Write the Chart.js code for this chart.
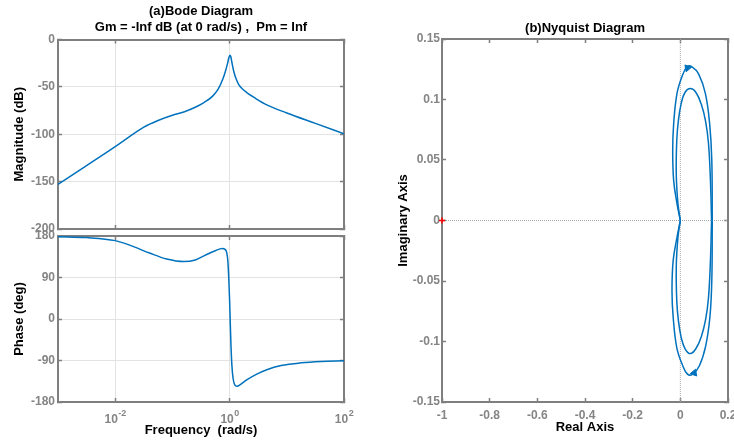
<!DOCTYPE html>
<html>
<head>
<meta charset="utf-8">
<script src="https://cdn.jsdelivr.net/npm/chart.js@4.4.1/dist/chart.umd.min.js"></script>
<style>
  html, body { margin: 0; padding: 0; background: #fff; }
  #fig { position: relative; width: 734px; height: 441px; }
  #fig canvas { position: absolute; left: 0; top: 0; }
</style>
</head>
<body>
<div id="fig">
  <canvas id="magChart" width="734" height="441"></canvas>
  <canvas id="phaseChart" width="734" height="441"></canvas>
  <canvas id="nyqChart" width="734" height="441"></canvas>
</div>
<script>
// Bode - Betrag (Frequenz in rad/s, Betrag in dB)
const magFreq = [0.001, 0.00316, 0.01, 0.0178, 0.0316, 0.0562, 0.1, 0.158, 0.251, 0.355, 0.501, 0.631,
                 0.759, 0.851, 0.923, 0.973, 1.012, 1.047, 1.096, 1.175, 1.288, 1.445, 1.66, 1.995,
                 2.818, 4.467, 10, 31.6, 100];
const magDb = [-153, -133, -113, -102.5, -92.5, -85.5, -80, -76.5, -71.5, -66.5, -60, -52.5,
               -42, -33, -25, -19, -16.5, -18, -24, -33, -41, -47.5, -52, -56,
               -62, -69, -77.5, -88.5, -99.5];

// Bode - Phase (deg)
const phaseFreq = [0.001, 0.00316, 0.01, 0.02, 0.0398, 0.0794, 0.158, 0.251, 0.398, 0.562, 0.741, 0.832,
                   0.891, 0.933, 0.966, 1.0, 1.028, 1.059, 1.096, 1.148, 1.23, 1.349, 1.585, 1.995,
                   2.818, 4.467, 7.943, 17.78, 39.81, 100];
const phaseDeg = [178.5, 176.5, 170, 158, 143, 130, 124.5, 128, 140, 148, 153, 151,
                  144, 125, 90, 40, -10, -60, -100, -128, -143, -146, -141, -132,
                  -121, -110, -101, -95, -92, -90.5];

// Achsenbeschriftungen Bode
const freqTicks = [0.01, 1, 100];
const freqTickExp = ['-2', '0', '2'];
const magTicks = [0, -50, -100, -150, -200];
const magTickLabels = ['0', '-50', '-100', '-150', '-200'];
const phaseTicks = [180, 90, 0, -90, -180];
const phaseTickLabels = ['180', '90', '0', '-90', '-180'];

// Nyquist - Schleifen (Realteil / Imaginaerteil)
const outerTopRe = [0, -0.014, -0.028, -0.032, -0.028, -0.014, 0.007, 0.028, 0.049, 0.077, 0.105, 0.123, 0.132, 0.134];
const outerTopIm = [0, 0.014, 0.033, 0.058, 0.080, 0.105, 0.119, 0.127, 0.127, 0.121, 0.105, 0.080, 0.050, 0];
const innerTopRe = [0, -0.01, -0.017, -0.015, -0.008, 0.004, 0.02, 0.042, 0.065, 0.088, 0.106, 0.118, 0.126, 0.131];
const innerTopIm = [0, 0.014, 0.038, 0.066, 0.083, 0.097, 0.106, 0.109, 0.106, 0.096, 0.082, 0.064, 0.035, 0];
const innerBotRe = [0, -0.01, -0.017, -0.015, -0.008, 0.004, 0.02, 0.042, 0.065, 0.088, 0.106, 0.118, 0.126, 0.131];
const innerBotIm = [0, -0.014, -0.038, -0.066, -0.083, -0.097, -0.106, -0.110, -0.106, -0.096, -0.082, -0.064, -0.035, 0];
const outerBotRe = [0, -0.014, -0.03, -0.035, -0.03, -0.015, 0.008, 0.03, 0.052, 0.08, 0.106, 0.124, 0.132, 0.134];
const outerBotIm = [0, -0.014, -0.033, -0.058, -0.080, -0.105, -0.119, -0.127, -0.127, -0.120, -0.104, -0.080, -0.050, 0];
const arrowRe = [0.03, 0.058];
const arrowIm = [0.126, -0.126];

// Achsenbeschriftungen Nyquist
const nyqXTicks = [-1, -0.8, -0.6, -0.4, -0.2, 0, 0.2];
const nyqXTickLabels = ['-1', '-0.8', '-0.6', '-0.4', '-0.2', '0', '0.2'];
const nyqYTicks = [0.15, 0.1, 0.05, 0, -0.05, -0.1, -0.15];
const nyqYTickLabels = ['0.15', '0.1', '0.05', '0', '-0.05', '-0.1', '-0.15'];

const LINE = '#0072bd';
const FRAME = '#7f7f7f';
const GRID = '#e3e3e3';
const TICKTXT = '#858585';
const FONT = '"Liberation Sans", Arial, Helvetica, sans-serif';

Chart.defaults.font.family = FONT;
Chart.defaults.animation = false;
Chart.defaults.plugins.legend.display = false;
Chart.defaults.plugins.tooltip.enabled = false;

// Achsenbox auf feste Groesse setzen, damit die Plotflaechen genau sitzen
function fitTo(size) {
    return function (scale) {
        if (scale.isHorizontal()) scale.height = size; else scale.width = size;
        scale.paddingLeft = 0;
        scale.paddingRight = 0;
        scale.paddingTop = 0;
        scale.paddingBottom = 0;
    };
}

function frameAxis(position, size, min, max, values, extra) {
    return Object.assign({
        position: position,
        min: min,
        max: max,
        afterBuildTicks: scale => { scale.ticks = values.map(v => ({ value: v })); },
        afterFit: fitTo(size),
        border: { display: true, color: FRAME, width: 2 },
        grid: { drawOnChartArea: false, drawTicks: true, tickLength: -4, tickColor: FRAME, tickWidth: 1.5 },
        ticks: { display: false }
    }, extra || {});
}

const gridOn = { color: GRID, lineWidth: 1, drawOnChartArea: true, drawTicks: true, tickLength: -4, tickColor: FRAME, tickWidth: 1.5 };

function tickText(labels, pad) {
    return { display: true, color: TICKTXT, font: { size: 12, weight: 'bold' }, padding: pad, autoSkip: false,
             maxRotation: 0, callback: (v, i) => labels[i] };
}

function axisTitle(text, pad) {
    return { display: true, text: text, color: '#000', font: { size: 13, weight: 'bold' }, padding: pad };
}

// Beschriftung 10^n unter der Phasenachse
const decadeLabels = {
    id: 'decadeLabels',
    afterDraw(chart) {
        const xs = chart.scales.x;
        const ctx = chart.ctx;
        const base = 'bold 12px ' + FONT;
        const small = 'bold 9px ' + FONT;
        const y = chart.chartArea.bottom;
        ctx.save();
        ctx.fillStyle = TICKTXT;
        ctx.textBaseline = 'middle';
        ctx.textAlign = 'left';
        freqTicks.forEach((v, i) => {
            const px = xs.getPixelForValue(v);
            ctx.font = base;
            const wBase = ctx.measureText('10').width;
            ctx.font = small;
            const wExp = ctx.measureText(freqTickExp[i]).width;
            const left = px - (wBase + wExp) / 2;
            ctx.font = base;
            ctx.fillText('10', left, y + 17.5);
            ctx.font = small;
            ctx.fillText(freqTickExp[i], left + wBase + 0.5, y + 12);
        });
        ctx.restore();
    }
};

const bodeLine = { borderColor: LINE, borderWidth: 1.5, pointRadius: 0, cubicInterpolationMode: 'monotone', fill: false };

new Chart(document.getElementById('magChart'), {
    type: 'line',
    data: {
        datasets: [Object.assign({ data: magFreq.map((f, i) => ({ x: f, y: magDb[i] })) }, bodeLine)]
    },
    options: {
        responsive: false,
        devicePixelRatio: 1,
        events: [],
        layout: { padding: { left: 0, right: 390, top: 0, bottom: 212 } },
        plugins: {
            title: {
                display: true,
                fullSize: false,
                text: ['(a)Bode Diagram', 'Gm = -Inf dB (at 0 rad/s) ,  Pm = Inf'],
                color: '#000',
                font: { size: 13, weight: 'bold', lineHeight: '16px' },
                padding: { top: 3.5, bottom: 4 }
            }
        },
        scales: {
            x: frameAxis('bottom', 0, 0.001, 100, freqTicks, { type: 'logarithmic', grid: gridOn }),
            x2: frameAxis('top', 0, 0.001, 100, freqTicks, { type: 'logarithmic' }),
            y: frameAxis('left', 58, -200, 0, magTicks, {
                type: 'linear', grid: gridOn, ticks: tickText(magTickLabels, 7),
                title: axisTitle('Magnitude (dB)', { top: 11.5, bottom: 0 })
            }),
            y2: frameAxis('right', 0, -200, 0, magTicks, { type: 'linear' })
        }
    }
});

new Chart(document.getElementById('phaseChart'), {
    type: 'line',
    data: {
        datasets: [Object.assign({ data: phaseFreq.map((f, i) => ({ x: f, y: phaseDeg[i] })) }, bodeLine)]
    },
    options: {
        responsive: false,
        devicePixelRatio: 1,
        events: [],
        layout: { padding: { left: 0, right: 390, top: 236, bottom: 0 } },
        scales: {
            x: frameAxis('bottom', 39, 0.001, 100, freqTicks, {
                type: 'logarithmic', grid: gridOn,
                title: axisTitle('Frequency  (rad/s)', { top: 0, bottom: 3 })
            }),
            x2: frameAxis('top', 0, 0.001, 100, freqTicks, { type: 'logarithmic' }),
            y: frameAxis('left', 58, -180, 180, phaseTicks, {
                type: 'linear', grid: gridOn, ticks: tickText(phaseTickLabels, 7),
                title: axisTitle('Phase (deg)', { top: 11.5, bottom: 0 })
            }),
            y2: frameAxis('right', 0, -180, 180, phaseTicks, { type: 'linear' })
        }
    },
    plugins: [decadeLabels]
});

const pts = (re, im) => re.map((r, i) => ({ x: r, y: im[i] }));
const loop = (re, im) => ({ data: pts(re, im), showLine: true, borderColor: LINE, borderWidth: 1.5, pointRadius: 0, tension: 0.4 });

new Chart(document.getElementById('nyqChart'), {
    type: 'scatter',
    data: {
        datasets: [
            { data: pts(arrowRe, arrowIm), showLine: false, pointStyle: 'triangle', pointRadius: 4,
              rotation: [80, 260], backgroundColor: LINE, borderColor: LINE, borderWidth: 1 },
            loop(outerTopRe, outerTopIm),
            loop(innerTopRe, innerTopIm),
            loop(innerBotRe, innerBotIm),
            loop(outerBotRe, outerBotIm),
            { data: [{ x: -1, y: 0 }], showLine: false, pointStyle: 'cross', pointRadius: 3,
              borderColor: '#ff0000', borderWidth: 1.5, clip: false },
            { data: [{ x: 0, y: -0.15 }, { x: 0, y: 0.15 }], showLine: true, pointRadius: 0,
              borderColor: '#a8a8a8', borderWidth: 1, borderDash: [1, 1] },
            { data: [{ x: -1, y: 0 }, { x: 0.2, y: 0 }], showLine: true, pointRadius: 0,
              borderColor: '#a8a8a8', borderWidth: 1, borderDash: [1, 1] }
        ]
    },
    options: {
        responsive: false,
        devicePixelRatio: 1,
        events: [],
        layout: { padding: { left: 384, right: 6, top: 0, bottom: 0 } },
        plugins: {
            title: {
                display: true,
                fullSize: false,
                text: '(b)Nyquist Diagram',
                color: '#000',
                font: { size: 13, weight: 'bold', lineHeight: '16px' },
                padding: { top: 20, bottom: 3 }
            }
        },
        scales: {
            x: frameAxis('bottom', 39, -1, 0.2, nyqXTicks, {
                type: 'linear', ticks: tickText(nyqXTickLabels, 10),
                title: axisTitle('Real Axis', { top: 0, bottom: 5.5 })
            }),
            x2: frameAxis('top', 0, -1, 0.2, nyqXTicks, { type: 'linear' }),
            y: frameAxis('left', 58, -0.15, 0.15, nyqYTicks, {
                type: 'linear', ticks: tickText(nyqYTickLabels, 6),
                title: axisTitle('Imaginary Axis', { top: 11.5, bottom: 0 })
            }),
            y2: frameAxis('right', 0, -0.15, 0.15, nyqYTicks, { type: 'linear' })
        }
    }
});
</script>
</body>
</html>
